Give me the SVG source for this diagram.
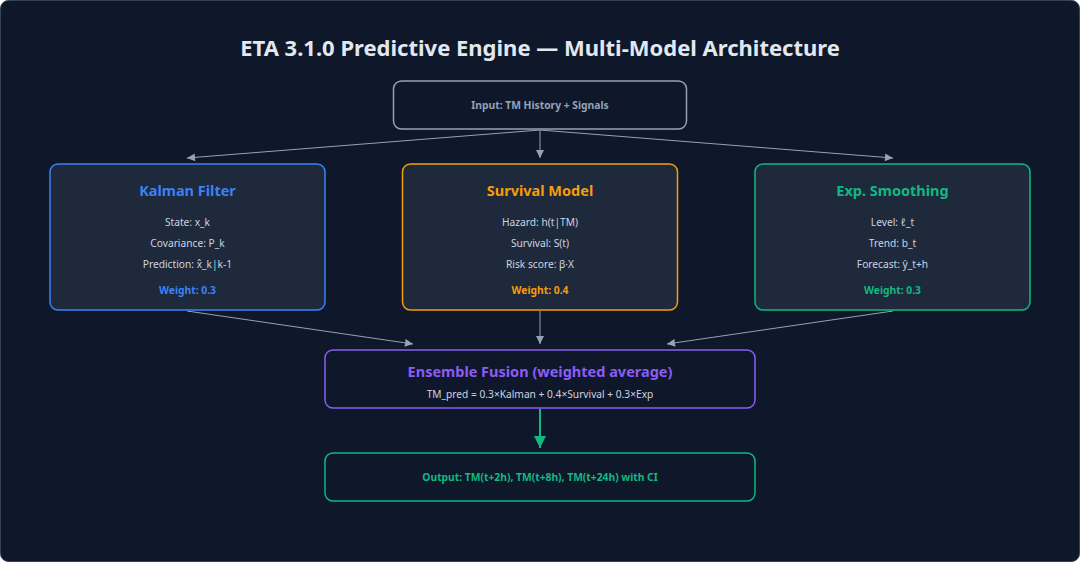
<svg xmlns="http://www.w3.org/2000/svg" width="1080" height="562" viewBox="0 0 1080 562">
<defs>
<style>
.t{font-family:"Noto Sans","Open Sans","DejaVu Sans",sans-serif;text-anchor:middle}
.title{font-size:22px;font-weight:700;fill:#e2e8f0}
.h{font-size:14.5px;font-weight:700}
.b{font-size:10.2px;fill:#cbd5e1}
.w{font-size:10.3px;font-weight:700}
.box{fill:#1e293b;stroke-width:1.5}
.conn{stroke:#94a3b8;stroke-width:1;fill:none}
</style>
<marker id="ag" viewBox="0 0 10 10" refX="10" refY="5" markerWidth="10" markerHeight="8" markerUnits="userSpaceOnUse" orient="auto"><path d="M0,0 L10,5 L0,10 z" fill="#94a3b8"/></marker>
<marker id="agr" viewBox="0 0 10 10" refX="10" refY="5" markerWidth="16" markerHeight="12" markerUnits="userSpaceOnUse" orient="auto"><path d="M0,0 L10,5 L0,10 z" fill="#10b981"/></marker>
</defs>
<rect x="0.5" y="0.5" width="1079" height="561" rx="8" fill="#0f172a" stroke="#334155" stroke-width="1"/>
<text class="t title" x="540" y="56">ETA 3.1.0 Predictive Engine — Multi-Model Architecture</text>
<g id="connectors">
<line class="conn" x1="540" y1="130" x2="187" y2="158" marker-end="url(#ag)"/>
<line class="conn" x1="540" y1="130" x2="540" y2="158" marker-end="url(#ag)"/>
<line class="conn" x1="540" y1="130" x2="893" y2="158" marker-end="url(#ag)"/>
<line class="conn" x1="187" y1="311" x2="413" y2="344" marker-end="url(#ag)"/>
<line class="conn" x1="540" y1="311" x2="540" y2="344" marker-end="url(#ag)"/>
<line class="conn" x1="893" y1="311" x2="667" y2="344" marker-end="url(#ag)"/>
<line x1="540" y1="409" x2="540" y2="448" stroke="#10b981" stroke-width="2" marker-end="url(#agr)"/>
</g>
<g id="input">
<rect x="393.5" y="81" width="293" height="48" rx="8" fill="#0f172a" stroke="#94a3b8" stroke-width="1.5"/>
<text class="t w" x="540" y="109" fill="#94a3b8">Input: TM History + Signals</text>
</g>
<g id="kalman">
<rect class="box" x="50" y="164" width="275" height="146" rx="8" stroke="#3b82f6"/>
<text class="t h" x="187.5" y="196" fill="#3b82f6">Kalman Filter</text>
<text class="t b" x="187.5" y="226">State: x_k</text>
<text class="t b" x="187.5" y="247">Covariance: P_k</text>
<text class="t b" x="187.5" y="268">Prediction: x̂_k|k-1</text>
<text class="t w" x="187.5" y="294" fill="#3b82f6">Weight: 0.3</text>
</g>
<g id="survival">
<rect class="box" x="402.5" y="164" width="275" height="146" rx="8" stroke="#f59e0b"/>
<text class="t h" x="540" y="196" fill="#f59e0b">Survival Model</text>
<text class="t b" x="540" y="226">Hazard: h(t|TM)</text>
<text class="t b" x="540" y="247">Survival: S(t)</text>
<text class="t b" x="540" y="268">Risk score: β·X</text>
<text class="t w" x="540" y="294" fill="#f59e0b">Weight: 0.4</text>
</g>
<g id="exp">
<rect class="box" x="755" y="164" width="275" height="146" rx="8" stroke="#10b981"/>
<text class="t h" x="892.5" y="196" fill="#10b981">Exp. Smoothing</text>
<text class="t b" x="892.5" y="226">Level: ℓ_t</text>
<text class="t b" x="892.5" y="247">Trend: b_t</text>
<text class="t b" x="892.5" y="268">Forecast: ŷ_t+h</text>
<text class="t w" x="892.5" y="294" fill="#10b981">Weight: 0.3</text>
</g>
<g id="ensemble">
<rect x="325" y="350" width="430" height="58" rx="8" fill="#0f172a" stroke="#8b5cf6" stroke-width="1.5"/>
<text class="t h" x="540" y="377" fill="#8b5cf6">Ensemble Fusion (weighted average)</text>
<text class="t b" x="540" y="398">TM_pred = 0.3×Kalman + 0.4×Survival + 0.3×Exp</text>
</g>
<g id="output">
<rect x="325" y="453" width="430" height="48" rx="8" fill="#0f172a" stroke="#10b981" stroke-width="1.5"/>
<text class="t w" x="540" y="481" fill="#10b981">Output: TM(t+2h), TM(t+8h), TM(t+24h) with CI</text>
</g>
</svg>
